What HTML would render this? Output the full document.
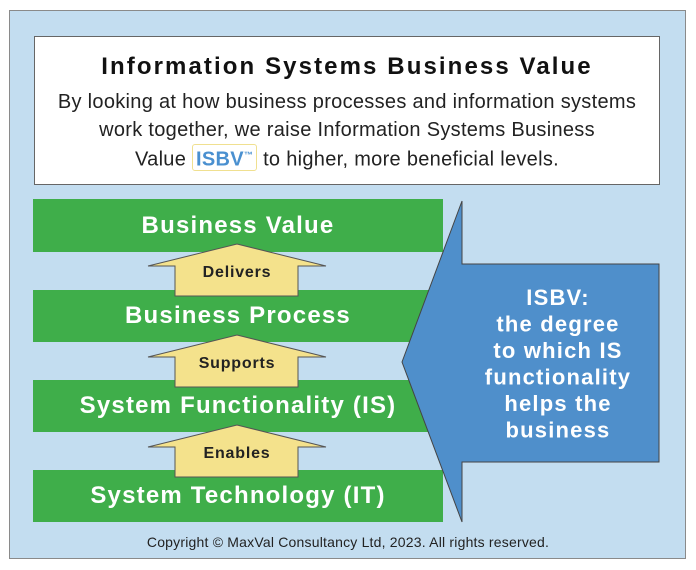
<!DOCTYPE html>
<html><head><style>
body{margin:0;width:696px;height:570px;background:#fff;position:relative;overflow:hidden;font-family:"Liberation Sans","DejaVu Sans",sans-serif}
.frame{position:absolute;left:9px;top:10px;width:675px;height:547px;background:#c3ddf0;border:1px solid #8a8a8a}
.top{position:absolute;left:34px;top:36px;width:624px;height:147px;background:#fff;border:1px solid #666;text-align:center;color:#222}
.t1{position:absolute;top:16px;width:100%;font-weight:bold;font-size:24px;letter-spacing:2.1px;color:#111}
.body{position:absolute;top:51px;width:100%;font-size:20px;line-height:28px;letter-spacing:0.3px}
.isbv{display:inline-block;border:1px solid #f0e090;border-radius:3px;color:#4a90d0;font-weight:bold;padding:0 3px;line-height:20px}
.bar{position:absolute;left:33px;width:410px;background:#3fae4a;color:#fff;font-weight:bold;font-size:24px;letter-spacing:1.2px;text-align:center}
.lbl{position:absolute;width:140px;left:167px;text-align:center;font-weight:bold;font-size:16px;letter-spacing:0.8px;color:#222}
.copy{position:absolute;top:534px;width:696px;text-align:center;font-size:14px;letter-spacing:0.2px;color:#222}
</style></head><body>
<div class="frame"></div>
<div class="top">
<div class="t1">Information Systems Business Value</div>
<div class="body">By looking at how business processes and information systems<br>work together, we raise Information Systems Business<br>Value <span class="isbv">ISBV<sup style="font-size:9px">™</sup></span> to higher, more beneficial levels.</div>
</div>
<div class="bar" style="top:199px;height:53px;line-height:53px">Business Value</div>
<div class="bar" style="top:290px;height:52px;line-height:52px">Business Process</div>
<div class="bar" style="top:380px;height:52px;line-height:52px">System Functionality (IS)</div>
<div class="bar" style="top:470px;height:52px;line-height:52px">System Technology (IT)</div>
<svg width="696" height="570" style="position:absolute;left:0;top:0">
<g fill="#f4e28c" stroke="#555" stroke-width="1">
<polygon points="237,244 326,266 298,266 298,296 175,296 175,266 148,266"/>
<polygon points="237,335 326,357 298,357 298,387 175,387 175,357 148,357"/>
<polygon points="237,425 326,447 298,447 298,477 175,477 175,447 148,447"/>
</g>
<polygon points="402,362 462,201 462,264 659,264 659,462 462,462 462,522" fill="#4f8fcb" stroke="#444" stroke-width="1"/>
<text x="558" y="305" fill="#fff" font-weight="bold" font-size="22" letter-spacing="1.2" text-anchor="middle" font-family="Liberation Sans,sans-serif">
<tspan x="558">ISBV:</tspan><tspan x="558" dy="26.5">the degree</tspan><tspan x="558" dy="26.5">to which IS</tspan><tspan x="558" dy="26.5">functionality</tspan><tspan x="558" dy="26.5">helps the</tspan><tspan x="558" dy="26.5">business</tspan></text>
</svg>
<div class="lbl" style="top:264px">Delivers</div>
<div class="lbl" style="top:355px">Supports</div>
<div class="lbl" style="top:445px">Enables</div>
<div class="copy">Copyright © MaxVal Consultancy Ltd, 2023. All rights reserved.</div>
</body></html>
